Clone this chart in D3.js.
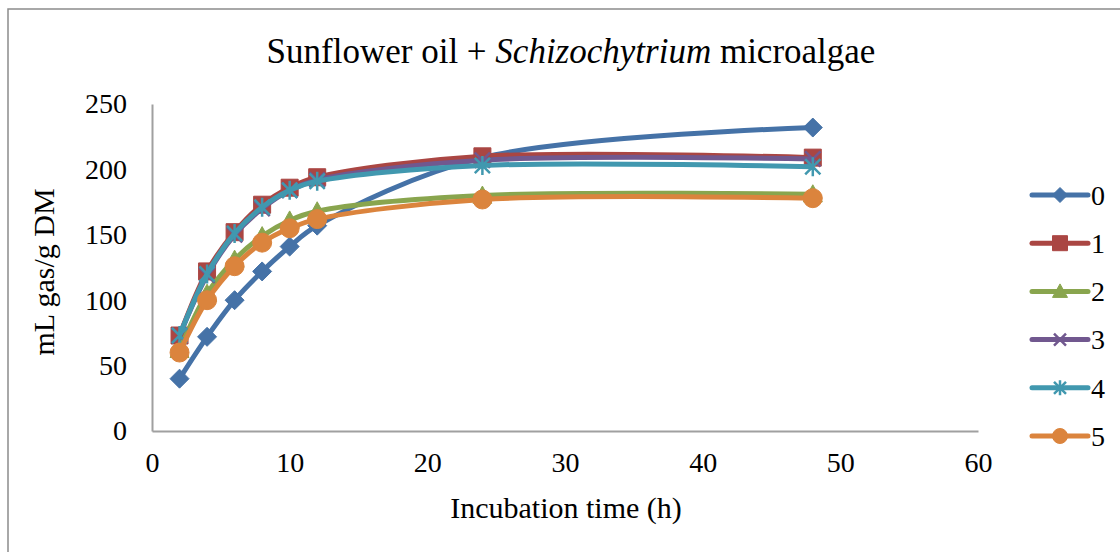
<!DOCTYPE html>
<html><head><meta charset="utf-8">
<script src="https://cdn.jsdelivr.net/npm/d3@7"></script>
<style>body{margin:0;background:#fff}svg{display:block}text{font-family:"Liberation Serif","Times New Roman",serif;fill:#000}</style>
</head><body>
<svg id="c" width="1120" height="552"></svg>
<script>
const hours = [2, 4, 6, 8, 10, 12, 24, 48];
const seriesNames = ["0", "1", "2", "3", "4", "5"];
const s0 = [40, 72, 100, 122, 141, 157, 209, 232];
const s1 = [73, 122, 152, 173, 186, 194, 210, 209];
const s2 = [62, 105, 131, 149, 161, 168, 180, 181];
const s3 = [73, 119, 150, 170, 184, 192, 207, 208];
const s4 = [73, 120, 151, 171, 184, 191, 203, 202];
const s5 = [60, 100, 126, 144, 155, 162, 177, 178];
const xTicks = [0, 10, 20, 30, 40, 50, 60];
const yTicks = [0, 50, 100, 150, 200, 250];
const colors = ["#4572A7", "#AA4643", "#89A54E", "#71588F", "#4198AF", "#DB843D"];
const markers = ["diamond", "square", "triangle", "x", "star", "circle"];
const allSeries = [s0, s1, s2, s3, s4, s5];

const svg = d3.select("#c");
// outer frame
svg.append("rect").attr("x", 8).attr("y", 9).attr("width", 1130).attr("height", 560)
  .attr("fill", "none").attr("stroke", "#8c8c8c").attr("stroke-width", 1.5);

const x = d3.scaleLinear().domain([0, 60]).range([152, 978]);
const y = d3.scaleLinear().domain([0, 250]).range([431, 104]);

// axes
const xAxis = svg.append("g").attr("transform", `translate(0,${y(0)})`)
  .call(d3.axisBottom(x).tickValues(xTicks).tickSize(0).tickPadding(21));
const yAxis = svg.append("g").attr("transform", `translate(${x(0)},0)`)
  .call(d3.axisLeft(y).tickValues(yTicks).tickSize(0).tickPadding(25));
[xAxis, yAxis].forEach(g => {
  g.select(".domain").attr("stroke", "#a0a0a0").attr("stroke-width", 2);
  g.selectAll("text").style("font-family", '"Liberation Serif","Times New Roman",serif')
    .style("font-size", "28px").attr("fill", "#000");
});

function markerPath(type, s) {
  const h = s / 2;
  switch (type) {
    case "diamond": return `M0,${-h}L${h},0L0,${h}L${-h},0Z`;
    case "square": return `M${-h},${-h}H${h}V${h}H${-h}Z`;
    case "triangle": return `M0,${-h}L${h},${h*0.8}L${-h},${h*0.8}Z`;
    case "circle": return d3.symbol(d3.symbolCircle, Math.PI * h * h)();
    case "x": { const a = h * 0.8; return `M${-a},${-a}L${a},${a}M${-a},${a}L${a},${-a}`; }
    case "star": { const a = h * 0.8; return `M${-a},${-a}L${a},${a}M${-a},${a}L${a},${-a}M0,${-h}V${h}`; }
  }
}
function drawMarker(g, type, color, s) {
  const open = type === "x" || type === "star";
  g.append("path").attr("d", markerPath(type, s))
    .attr("fill", open ? "none" : color)
    .attr("stroke", color).attr("stroke-width", open ? 2.5 : 1);
}

const line = d3.line().x((d, i) => x(hours[i])).y(d => y(d)).curve(d3.curveCatmullRom.alpha(0.5));
const plot = svg.append("g");
allSeries.forEach((vals, k) => {
  const g = plot.append("g");
  g.append("path").attr("d", line(vals)).attr("fill", "none")
    .attr("stroke", colors[k]).attr("stroke-width", 5).attr("stroke-linejoin", "round");
  vals.forEach((v, i) => {
    const m = g.append("g").attr("transform", `translate(${x(hours[i])},${y(v)})`);
    drawMarker(m, markers[k], colors[k], markers[k] === "square" ? 17 : 19);
  });
});

// legend
const legend = svg.append("g");
seriesNames.forEach((name, k) => {
  const ly = 195 + k * 48.2;
  const g = legend.append("g").attr("transform", `translate(0,${ly})`);
  g.append("line").attr("x1", 1032).attr("x2", 1088).attr("y1", 0).attr("y2", 0)
    .attr("stroke", colors[k]).attr("stroke-width", 5).attr("stroke-linecap", "round");
  const m = g.append("g").attr("transform", "translate(1060,0)");
  drawMarker(m, markers[k], colors[k], 15);
  g.append("text").attr("x", 1091).attr("y", 0).attr("dy", "0.35em")
    .style("font-size", "28px").text(name);
});

// title
const t = svg.append("text").attr("x", 571).attr("y", 63).attr("text-anchor", "middle").style("font-size", "35px");
t.append("tspan").text("Sunflower oil + ");
t.append("tspan").style("font-style", "italic").text("Schizochytrium");
t.append("tspan").text(" microalgae");

svg.append("text").attr("x", 566).attr("y", 518).attr("text-anchor", "middle")
  .style("font-size", "30px").text("Incubation time (h)");
svg.append("text").attr("transform", "translate(54,272) rotate(-90)").attr("text-anchor", "middle")
  .style("font-size", "30px").text("mL gas/g DM");
</script>
</body></html>
